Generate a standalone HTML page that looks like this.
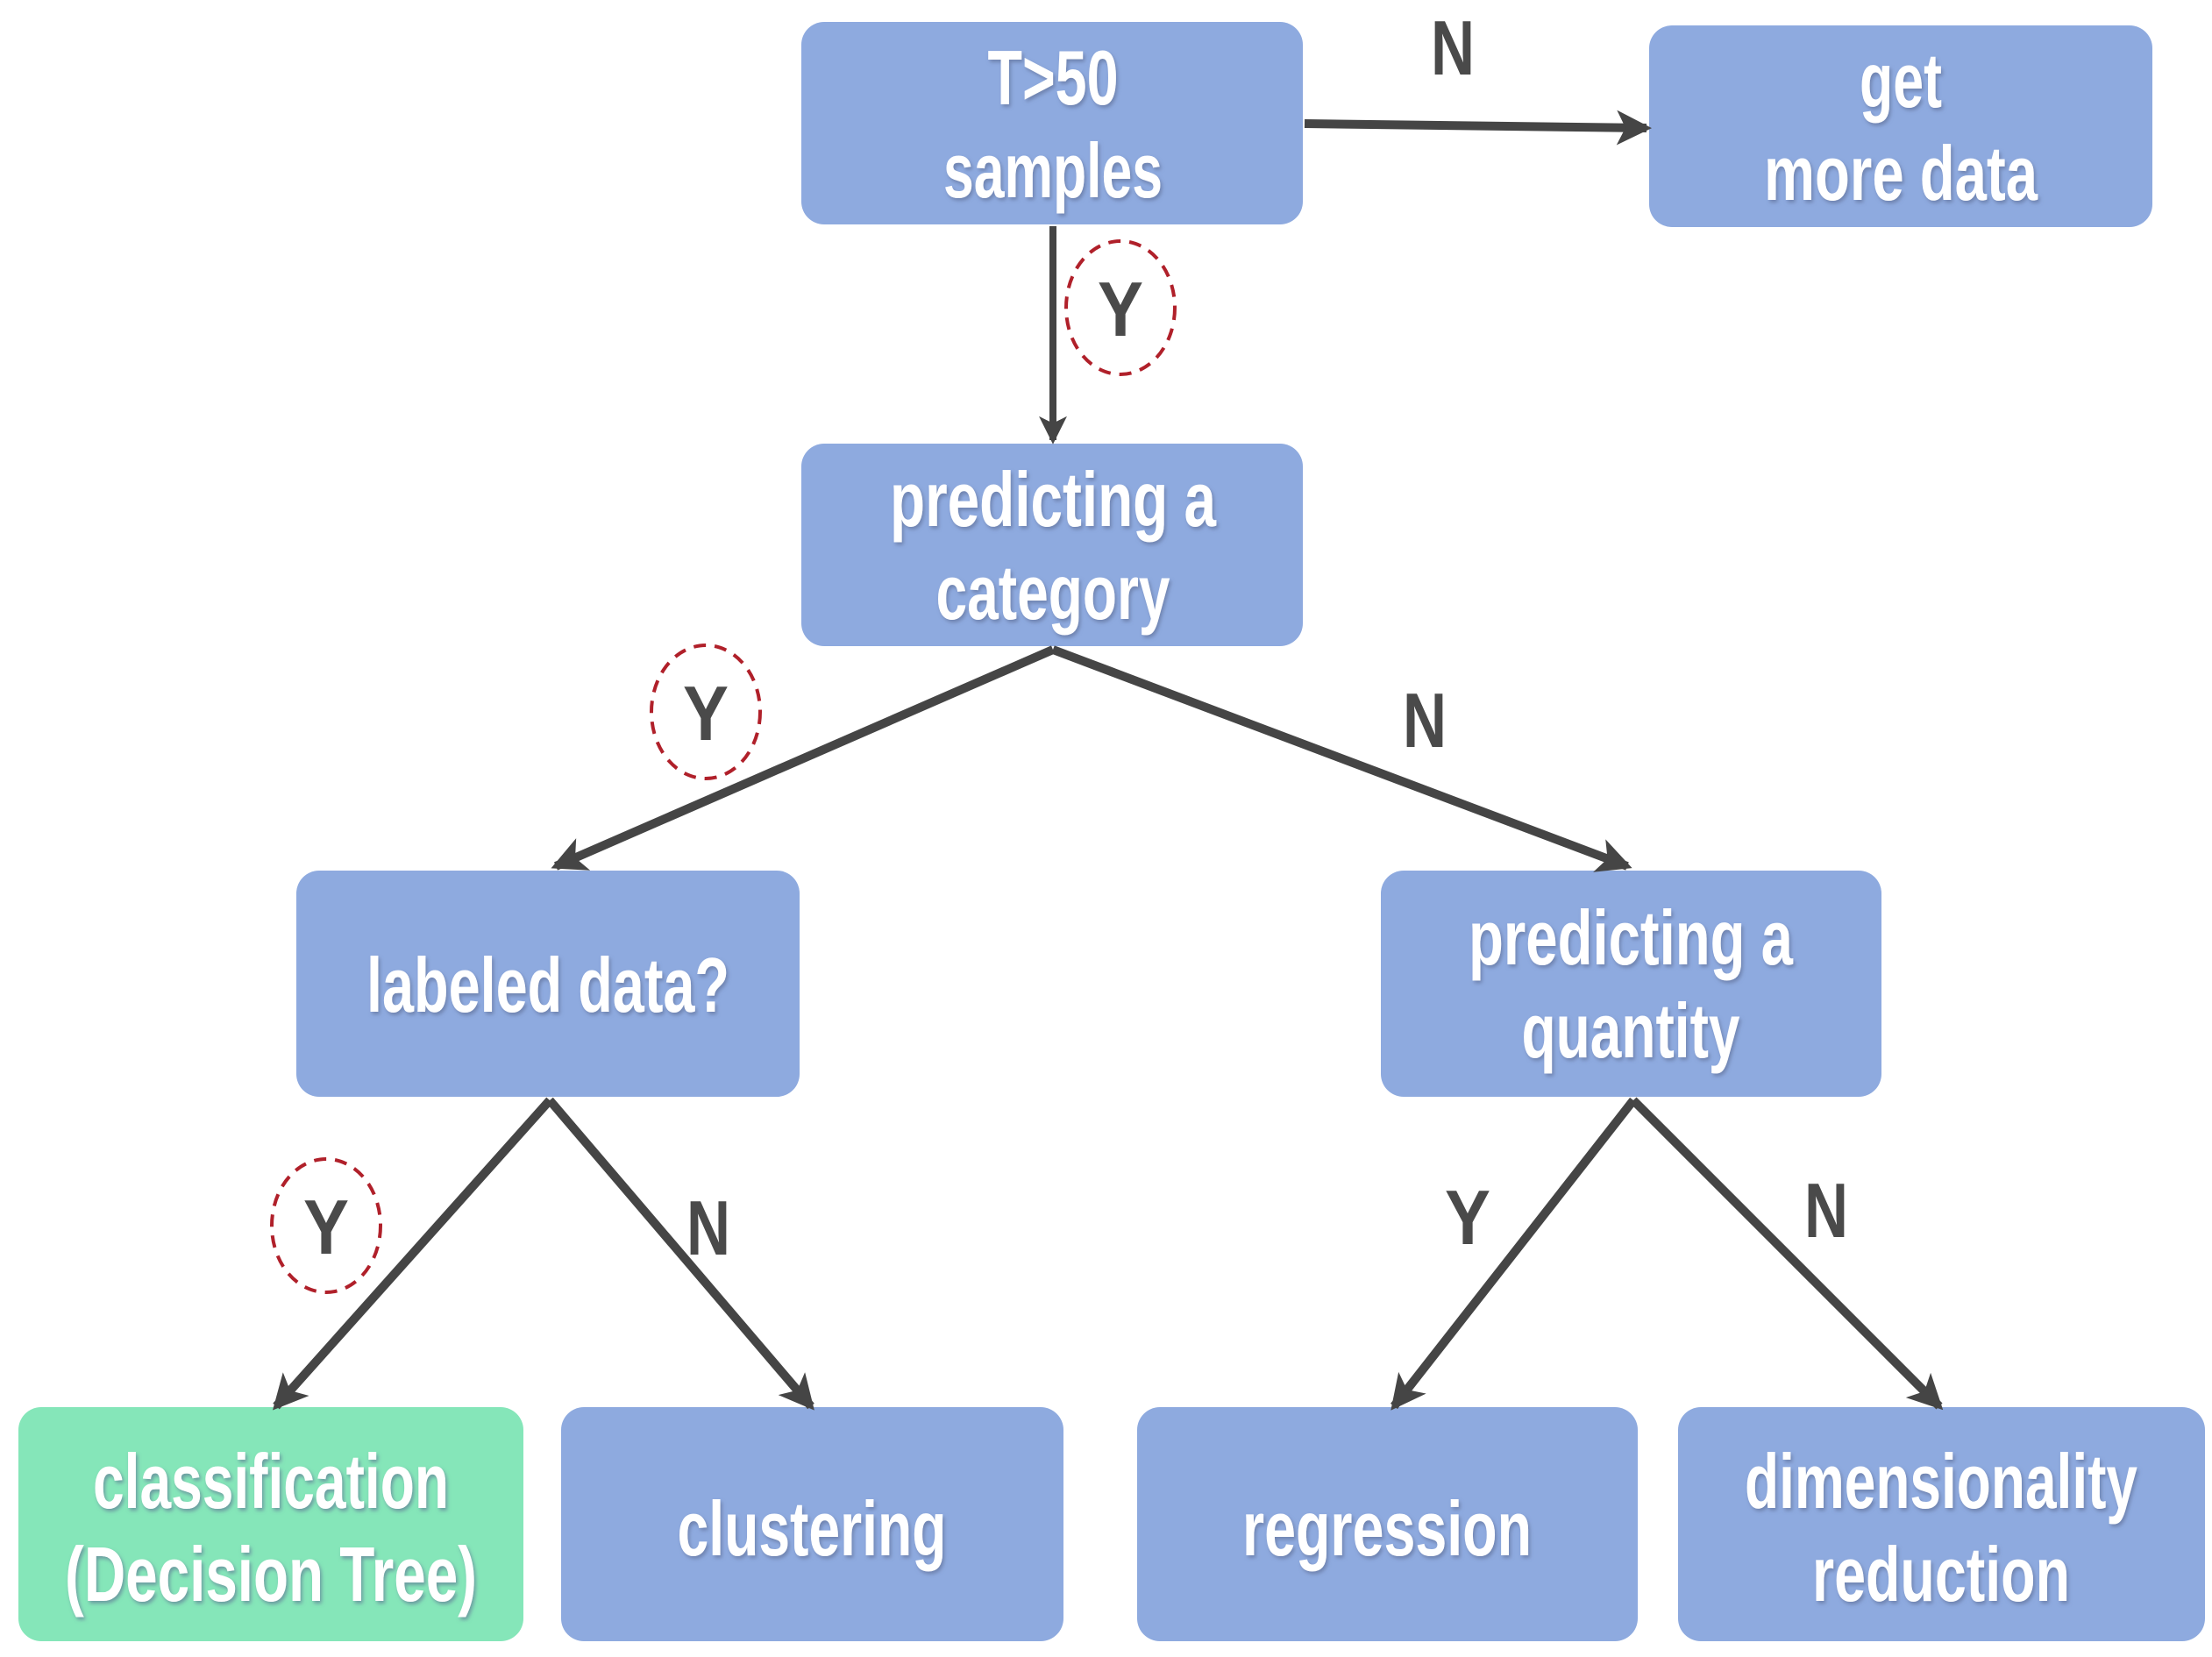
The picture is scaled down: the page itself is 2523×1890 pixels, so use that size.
<!DOCTYPE html>
<html><head><meta charset="utf-8"><style>
html,body{margin:0;padding:0;background:#fff;}
svg{display:block;}
.t{font-family:"Liberation Sans Narrow","Liberation Sans",sans-serif;font-size:88px;font-weight:bold;fill:#fff;text-anchor:middle;}
.l{font-family:"Liberation Sans Narrow","Liberation Sans",sans-serif;font-size:88px;font-weight:bold;fill:#4a4a4a;text-anchor:middle;}
</style></head><body>
<svg width="2523" height="1890" viewBox="0 0 2523 1890" xmlns="http://www.w3.org/2000/svg">
<defs>
<marker id="a" markerWidth="4" markerHeight="4" refX="3.4" refY="2" orient="auto" markerUnits="strokeWidth">
<path d="M0,0 L4,2 L0,4 L1,2 z" fill="#454545"/></marker>
<filter id="s"><feDropShadow dx="2" dy="3" stdDeviation="2" flood-color="#5a6a90" flood-opacity="0.6"/></filter>
</defs>
<g fill="#8eaadf">
<rect x="914" y="25" width="572" height="231" rx="26"/>
<rect x="1881" y="29" width="574" height="230" rx="26"/>
<rect x="914" y="506" width="572" height="231" rx="26"/>
<rect x="338" y="993" width="574" height="258" rx="26"/>
<rect x="1575" y="993" width="571" height="258" rx="26"/>
<rect x="640" y="1605" width="573" height="267" rx="26"/>
<rect x="1297" y="1605" width="571" height="267" rx="26"/>
<rect x="1914" y="1605" width="601" height="267" rx="26"/>
</g>
<rect x="21" y="1605" width="576" height="267" rx="26" fill="#85e6b9"/>
<g stroke="#454545" stroke-width="10" fill="none">
<line x1="1488" y1="141" x2="1878" y2="146" marker-end="url(#a)"/>
<line x1="1201" y1="258" x2="1201" y2="502" stroke-width="8" marker-end="url(#a)"/>
<line x1="1201" y1="741" x2="1856" y2="988" marker-end="url(#a)"/>
<line x1="1201" y1="741" x2="634" y2="988" marker-end="url(#a)"/>
<line x1="627" y1="1255" x2="315" y2="1604" marker-end="url(#a)"/>
<line x1="627" y1="1255" x2="925" y2="1604" marker-end="url(#a)"/>
<line x1="1863" y1="1255" x2="1590" y2="1604" marker-end="url(#a)"/>
<line x1="1863" y1="1255" x2="2212" y2="1604" marker-end="url(#a)"/>
</g>
<g fill="none" stroke="#b0202a" stroke-width="4" stroke-dasharray="14,10">
<ellipse cx="1278" cy="351" rx="62" ry="76"/>
<ellipse cx="805" cy="812" rx="62" ry="76"/>
<ellipse cx="372" cy="1398" rx="62" ry="76"/>
</g>
<g class="l">
<text x="1657" y="85" textLength="50" lengthAdjust="spacingAndGlyphs">N</text>
<text x="1278" y="383" textLength="52" lengthAdjust="spacingAndGlyphs">Y</text>
<text x="805" y="844" textLength="52" lengthAdjust="spacingAndGlyphs">Y</text>
<text x="1625" y="852" textLength="50" lengthAdjust="spacingAndGlyphs">N</text>
<text x="372" y="1430" textLength="52" lengthAdjust="spacingAndGlyphs">Y</text>
<text x="808" y="1431" textLength="50" lengthAdjust="spacingAndGlyphs">N</text>
<text x="1674" y="1419" textLength="52" lengthAdjust="spacingAndGlyphs">Y</text>
<text x="2083" y="1411" textLength="50" lengthAdjust="spacingAndGlyphs">N</text>
</g>
<g class="t" filter="url(#s)">
<text x="1201" y="119" textLength="149" lengthAdjust="spacingAndGlyphs">T&gt;50</text>
<text x="1201" y="225" textLength="250" lengthAdjust="spacingAndGlyphs">samples</text>
<text x="2168" y="122" textLength="94" lengthAdjust="spacingAndGlyphs">get</text>
<text x="2168" y="228" textLength="312" lengthAdjust="spacingAndGlyphs">more data</text>
<text x="1201" y="600" textLength="372" lengthAdjust="spacingAndGlyphs">predicting a</text>
<text x="1201" y="706" textLength="267" lengthAdjust="spacingAndGlyphs">category</text>
<text x="625" y="1154" textLength="414" lengthAdjust="spacingAndGlyphs">labeled data?</text>
<text x="1860" y="1100" textLength="370" lengthAdjust="spacingAndGlyphs">predicting a</text>
<text x="1860" y="1206" textLength="249" lengthAdjust="spacingAndGlyphs">quantity</text>
<text x="309" y="1720" textLength="406" lengthAdjust="spacingAndGlyphs">classification</text>
<text x="309" y="1826" textLength="470" lengthAdjust="spacingAndGlyphs">(Decision Tree)</text>
<text x="926" y="1774" textLength="307" lengthAdjust="spacingAndGlyphs">clustering</text>
<text x="1582" y="1774" textLength="330" lengthAdjust="spacingAndGlyphs">regression</text>
<text x="2214" y="1720" textLength="448" lengthAdjust="spacingAndGlyphs">dimensionality</text>
<text x="2214" y="1826" textLength="294" lengthAdjust="spacingAndGlyphs">reduction</text>
</g>
</svg>
</body></html>
